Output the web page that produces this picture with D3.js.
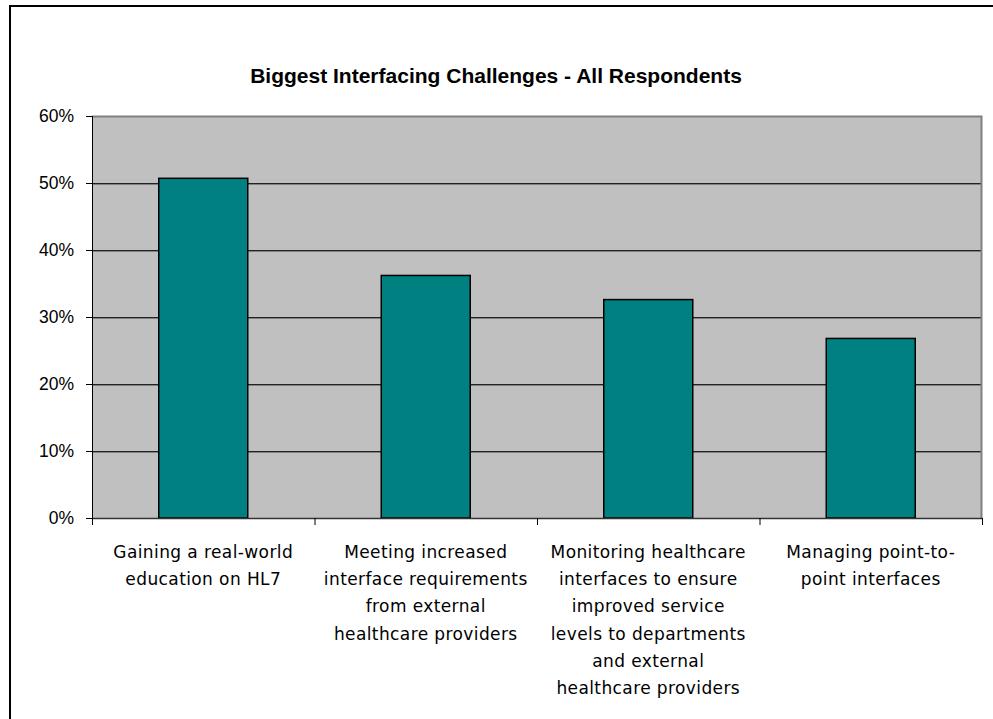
<!DOCTYPE html>
<html>
  <head>
    <meta charset="utf-8">
    <title>Biggest Interfacing Challenges</title>
    <script src="https://d3js.org/d3.v7.min.js"></script>
    <style>
      body { margin: 0; background: #fff; }
      text { font-family: "Liberation Sans", Arial, sans-serif; fill: #000; }
    </style>
  </head>
  <body>
    <svg width="993" height="719"></svg>

    <script>
      // chart data
      const categories = [
        ["Gaining a real-world", "education on HL7"],
        ["Meeting increased", "interface requirements", "from external", "healthcare providers"],
        ["Monitoring healthcare", "interfaces to ensure", "improved service", "levels to departments", "and external", "healthcare providers"],
        ["Managing point-to-", "point interfaces"]
      ];
      const values = [0.507, 0.362, 0.326, 0.268];
      const yTicks = [0, 0.1, 0.2, 0.3, 0.4, 0.5, 0.6];
      const title = "Biggest Interfacing Challenges - All Respondents";

      const svg = d3.select("svg");
      const plotLeft = 92, plotRight = 982, plotTop = 116, plotBottom = 518;

      // outer frame (only left and top edges show)
      svg.append("path")
        .attr("d", "M10,719V6H993")
        .attr("fill", "none")
        .attr("stroke", "#000")
        .attr("stroke-width", 2);

      svg.append("text")
        .attr("x", 496)
        .attr("y", 83)
        .attr("text-anchor", "middle")
        .style("font-size", "21px")
        .style("font-weight", "bold")
        .text(title);

      const x = d3.scaleBand()
        .domain(d3.range(categories.length))
        .range([plotLeft, plotRight])
        .paddingInner(0.6)
        .paddingOuter(0.3);

      const y = d3.scaleLinear()
        .domain([0, 0.6])
        .range([plotBottom, plotTop]);

      // plot area
      svg.append("rect")
        .attr("x", plotLeft).attr("y", plotTop)
        .attr("width", plotRight - plotLeft).attr("height", plotBottom - plotTop)
        .attr("fill", "#c0c0c0");

      // gridlines: dark line with a grey shadow under it
      const inner = yTicks.filter(d => d > 0 && d < 0.6);
      const grid = svg.append("g");
      grid.selectAll("line.g1")
        .data(inner)
        .enter().append("line")
          .attr("x1", plotLeft).attr("x2", plotRight)
          .attr("y1", d => y(d) + 0.5).attr("y2", d => y(d) + 0.5)
          .attr("stroke", "#222");
      grid.selectAll("line.g2")
        .data(inner)
        .enter().append("line")
          .attr("x1", plotLeft).attr("x2", plotRight)
          .attr("y1", d => y(d) + 1.5).attr("y2", d => y(d) + 1.5)
          .attr("stroke", "#808080");

      // top and right edge of plot area
      svg.append("path")
        .attr("d", `M${plotLeft},${plotTop + 0.5}H${plotRight - 0.5}V${plotBottom}`)
        .attr("fill", "none")
        .attr("stroke", "#808080")
        .attr("stroke-width", 2);

      // bars
      svg.selectAll("rect.bar")
        .data(values)
        .enter().append("rect")
          .attr("class", "bar")
          .attr("x", (d, i) => x(i))
          .attr("y", d => y(d))
          .attr("width", x.bandwidth())
          .attr("height", d => plotBottom - y(d))
          .attr("fill", "#008080")
          .attr("stroke", "#000")
          .attr("stroke-width", 1.5);

      // y axis
      const yAxis = svg.append("g")
        .attr("transform", `translate(${plotLeft},0)`)
        .call(d3.axisLeft(y).tickValues(yTicks).tickFormat(d3.format(".0%")).tickSize(6).tickPadding(12));
      yAxis.select(".domain").attr("stroke", "#000").attr("d", `M0.5,${plotTop}V${plotBottom + 7}`);
      yAxis.selectAll(".tick line").attr("stroke", "#000");
      yAxis.selectAll("text")
        .style("font-size", "17.5px")
        .style("font-family", "'Liberation Sans', Arial, sans-serif");

      // x axis with ticks at the category boundaries
      const xb = d3.scaleLinear().domain([0, categories.length]).range([plotLeft, plotRight]);
      const xAxis = svg.append("g")
        .attr("transform", `translate(0,${plotBottom})`)
        .call(d3.axisBottom(xb).ticks(categories.length).tickFormat("").tickSize(7).tickSizeOuter(0));
      xAxis.select(".domain").attr("stroke", "#333").attr("stroke-width", 1.5);
      xAxis.selectAll(".tick line").attr("stroke", "#000");

      // category labels
      const labels = svg.append("g");
      categories.forEach((lines, i) => {
        const cx = x(i) + x.bandwidth() / 2;
        const t = labels.append("text")
          .attr("text-anchor", "middle")
          .attr("x", cx)
          .attr("y", 558)
          .style("font-family", "'DejaVu Sans', sans-serif")
          .style("font-size", "17px")
          .style("letter-spacing", "0.4px");
        lines.forEach((line, j) => {
          t.append("tspan")
            .attr("x", cx)
            .attr("dy", j === 0 ? 0 : 27.2)
            .text(line);
        });
      });
    </script>
  </body>
</html>
